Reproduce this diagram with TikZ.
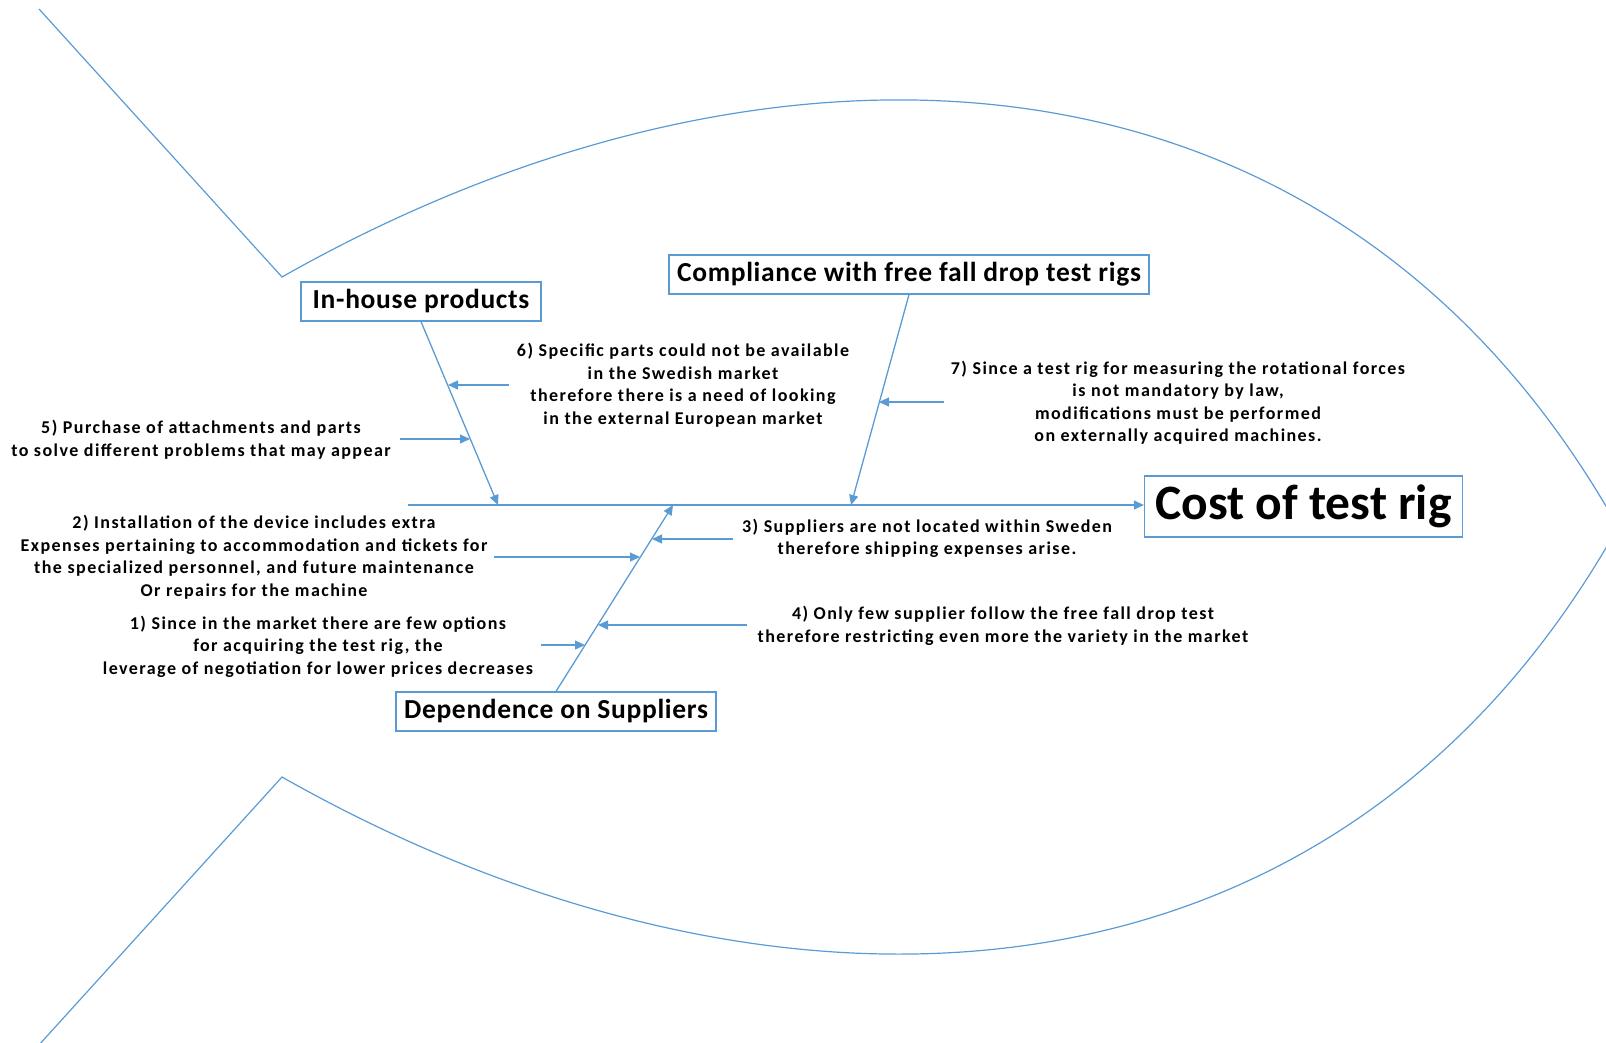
\documentclass[tikz,border=0pt]{standalone}
\usepackage{fontspec}
\setmainfont{Carlito}
\usetikzlibrary{arrows.meta}

\begin{document}
\begin{tikzpicture}[x=1pt,y=-1pt,
  fish/.style={draw=fishblue,line width=1.2pt},
  bone/.style={draw=fishblue,line width=1.3pt,-{Triangle[length=10pt,width=9pt]}},
  cat/.style={draw=fishblue,line width=1.2pt,fill=white,inner xsep=8pt,minimum height=39pt,
    font=\fontsize{27.5}{32}\selectfont\bfseries\addfontfeature{LetterSpace=2.5}},
  cause/.style={align=center,font=\fontsize{18}{22.5}\selectfont\bfseries\addfontfeature{LetterSpace=8}}]
  \definecolor{fishblue}{RGB}{91,155,213}

  \useasboundingbox (0,0) rectangle (1606,1042);

  \draw [fish] (39,9) -- (282,277) .. controls (760,6) and (1330,14) .. (1618,527)
    .. controls (1330,1040) and (760,1048) .. (282,777) -- (38,1046);

  \node [cat,minimum width=240pt] (inhouse) at (421,301.5) {In-house products};
  \node [cat] (compliance) at (909,274.5) {Compliance with free fall drop test rigs};
  \node [cat] (suppliers) at (556,711.5) {Dependence on Suppliers};
  \node [cat,minimum height=61pt,inner xsep=11pt,font=\fontsize{49.5}{55}\selectfont\bfseries]
    (cost) at (1303.5,506.5) {Cost of test rig};

  \coordinate (tail) at (408,505);
  \coordinate (h1) at (498,505);
  \coordinate (h2) at (851,505);
  \coordinate (h3) at (673,505);

  \draw [bone] (tail) -- (tail -| cost.west);
  \draw [bone] (inhouse.south) -- (h1);
  \draw [bone] (compliance.south) -- (h2);
  \draw [bone] (suppliers.north) -- (h3);

  \node [cause] (c1) at (318,646.5) {1) Since in the market there are few options\\
    for acquiring the test rig, the\\leverage of negotiation for lower prices decreases};
  \node [cause] (c2) at (254,557) {2) Installation of the device includes extra\\
    Expenses pertaining to accommodation and tickets for\\
    the specialized personnel, and future maintenance\\Or repairs for the machine};
  \node [cause] (c3) at (927,538.5) {3) Suppliers are not located within Sweden\\
    therefore shipping expenses arise.};
  \node [cause] (c4) at (1003,626) {4) Only few supplier follow the free fall drop test\\
    therefore restricting even more the variety in the market};
  \node [cause] (c5) at (201,439.5) {5) Purchase of attachments and parts\\
    to solve different problems that may appear};
  \node [cause] (c6) at (683,385) {6) Specific parts could not be available\\
    in the Swedish market\\therefore there is a need of looking\\in the external European market};
  \node [cause] (c7) at (1178,402.5) {7) Since a test rig for measuring the rotational forces\\
    is not mandatory by law,\\modifications must be performed\\on externally acquired machines.};

  \coordinate (t1) at (541,645);  \coordinate (e1) at (585,645);
  \coordinate (t2) at (494,557);  \coordinate (e2) at (640,557);
  \coordinate (t3) at (733,539);  \coordinate (e3) at (652,539);
  \coordinate (t4) at (747,625);  \coordinate (e4) at (598,625);
  \coordinate (t5) at (400,439);  \coordinate (e5) at (470,439);
  \coordinate (t6) at (509,385);  \coordinate (e6) at (448,385);
  \coordinate (t7) at (944,402);  \coordinate (e7) at (879,402);

  \foreach \n in {1,...,7}
    \draw [bone] (t\n) -- (e\n);
\end{tikzpicture}
\end{document}
